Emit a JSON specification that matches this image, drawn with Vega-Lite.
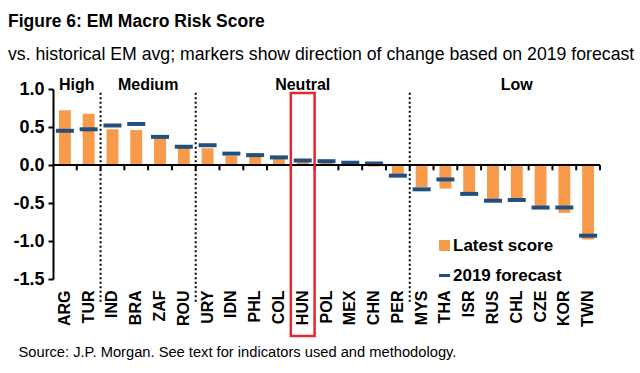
{
  "$schema": "https://vega.github.io/schema/vega-lite/v6.json",
  "width": 547,
  "height": 190,
  "autosize": {"type": "none"},
  "padding": {"left": 53, "top": 89, "right": 40, "bottom": 94},
  "background": "white",
  "config": {
    "font": "Liberation Sans",
    "view": {"stroke": null},
    "title": {"fontSize": 17.5, "fontWeight": "bold", "color": "black", "subtitleFontSize": 17.7, "subtitleColor": "black", "subtitlePadding": 16, "anchor": "start", "frame": "group"}
  },
  "title": {
    "text": "Figure 6: EM Macro Risk Score",
    "subtitle": "vs. historical EM avg; markers show direction of change based on 2019 forecast",
    "dx": -45,
    "offset": 13
  },
  "datasets": {
    "scores": [
      {"country": "ARG", "latest": 0.72, "forecast": 0.45},
      {"country": "TUR", "latest": 0.675, "forecast": 0.47},
      {"country": "IND", "latest": 0.47, "forecast": 0.52},
      {"country": "BRA", "latest": 0.46, "forecast": 0.54},
      {"country": "ZAF", "latest": 0.35, "forecast": 0.37},
      {"country": "ROU", "latest": 0.23, "forecast": 0.24},
      {"country": "URY", "latest": 0.22, "forecast": 0.26},
      {"country": "IDN", "latest": 0.12, "forecast": 0.15},
      {"country": "PHL", "latest": 0.11, "forecast": 0.13},
      {"country": "COL", "latest": 0.08, "forecast": 0.10},
      {"country": "HUN", "latest": 0.04, "forecast": 0.06},
      {"country": "POL", "latest": 0.03, "forecast": 0.05},
      {"country": "MEX", "latest": 0.02, "forecast": 0.03},
      {"country": "CHN", "latest": -0.02, "forecast": 0.02},
      {"country": "PER", "latest": -0.12, "forecast": -0.14},
      {"country": "MYS", "latest": -0.29, "forecast": -0.32},
      {"country": "THA", "latest": -0.31, "forecast": -0.19},
      {"country": "ISR", "latest": -0.37, "forecast": -0.38},
      {"country": "RUS", "latest": -0.46, "forecast": -0.47},
      {"country": "CHL", "latest": -0.45, "forecast": -0.46},
      {"country": "CZE", "latest": -0.56, "forecast": -0.56},
      {"country": "KOR", "latest": -0.63, "forecast": -0.56},
      {"country": "TWN", "latest": -0.98, "forecast": -0.93}
    ],
    "dividers": [
      {"country": "IND", "top": 0.95, "bottom": -1.8},
      {"country": "URY", "top": 0.95, "bottom": -1.8},
      {"country": "MYS", "top": 0.95, "bottom": -1.8}
    ],
    "groupsEdge": [
      {"country": "TUR", "label": "High", "y": 1.0},
      {"country": "ZAF", "label": "Medium", "y": 1.0}
    ],
    "groupsCenter": [
      {"country": "HUN", "label": "Neutral", "y": 1.0},
      {"country": "CHL", "label": "Low", "y": 1.0}
    ],
    "box": [
      {"country": "HUN", "top": 0.947, "bottom": -2.25}
    ]
  },
  "encoding": {
    "x": {
      "field": "country",
      "type": "nominal",
      "scale": {
        "domain": ["ARG","TUR","IND","BRA","ZAF","ROU","URY","IDN","PHL","COL","HUN","POL","MEX","CHN","PER","MYS","THA","ISR","RUS","CHL","CZE","KOR","TWN"],
        "paddingInner": 0,
        "paddingOuter": 0
      },
      "axis": {
        "title": "Source: J.P. Morgan. See text for indicators used and methodology.",
        "titleX": -35,
        "titleY": 77,
        "titleAlign": "left",
        "titleAnchor": null,
        "titleBaseline": "alphabetic",
        "titleFontSize": 14.7,
        "titleFontWeight": "normal",
        "titleColor": "black",
        "labelAngle": 270,
        "labelFontSize": 16,
        "labelFontWeight": "bold",
        "labelColor": "black",
        "labelPadding": 11,
        "ticks": false,
        "domain": false,
        "grid": false
      }
    },
    "y": {
      "type": "quantitative",
      "scale": {"domain": [-1.5, 1.0], "nice": false, "zero": false},
      "axis": {
        "title": null,
        "values": [-1.5, -1.0, -0.5, 0, 0.5, 1.0],
        "labelExpr": "replace(format(datum.value, '.1f'), '\u2212', '-')",
        "labelFontSize": 18,
        "labelFontWeight": "bold",
        "labelColor": "black",
        "labelPadding": 4,
        "labelOverlap": false,
        "labelBound": false,
        "labelFlush": false,
        "tickSize": 5,
        "tickWidth": 2,
        "tickColor": "black",
        "ticks": true,
        "domain": true,
        "domainColor": "black",
        "domainWidth": 2,
        "grid": false
      }
    }
  },
  "layer": [
    {
      "data": {"name": "scores"},
      "mark": {"type": "bar", "width": {"band": 0.5}, "color": "#F79A4A", "opacity": 1},
      "encoding": {
        "y": {"field": "latest"},
        "color": {
          "datum": "Latest score",
          "scale": {"domain": ["Latest score", "2019 forecast"], "range": ["#F79A4A", "#21507F"]},
          "legend": {
            "title": null,
            "orient": "none",
            "legendX": 383,
            "legendY": 148,
            "padding": 0,
            "symbolSize": 121,
            "symbolOpacity": 1,
            "labelFontSize": 17,
            "labelFontWeight": "bold",
            "labelColor": "black",
            "labelOffset": 0,
            "rowPadding": 12,
            "symbolStrokeWidth": 0,
            "encode": {
              "symbols": {
                "update": {
                  "shape": {"signal": "datum.value === '2019 forecast' ? 'M-1,-0.28H1V0.28H-1Z' : 'square'"},
                  "strokeWidth": {"value": 0},
                  "opacity": {"value": 1}
                }
              }
            }
          }
        }
      }
    },
    {
      "data": {"name": "scores"},
      "mark": {"type": "tick", "size": 18, "thickness": 4, "opacity": 1},
      "encoding": {
        "y": {"field": "forecast"},
        "color": {"datum": "2019 forecast"}
      }
    },
    {
      "data": {"values": [{"z": 0}]},
      "mark": {"type": "rule", "color": "black", "strokeWidth": 2},
      "encoding": {
        "y": {"field": "z"},
        "x": null
      }
    },
    {
      "data": {"name": "scores"},
      "mark": {"type": "rule", "color": "black", "strokeWidth": 2},
      "encoding": {
        "x": {"field": "country", "type": "nominal", "bandPosition": 1},
        "y": {"datum": 0},
        "y2": {"datum": -0.07}
      }
    },
    {
      "data": {"name": "dividers"},
      "mark": {"type": "rule", "color": "black", "strokeWidth": 2, "strokeDash": [2, 2.5]},
      "encoding": {
        "x": {"field": "country", "type": "nominal", "bandPosition": 0},
        "y": {"field": "top"},
        "y2": {"field": "bottom"}
      }
    },
    {
      "data": {"name": "box"},
      "mark": {"type": "rect", "fill": "transparent", "stroke": "#E8262B", "strokeWidth": 2.5},
      "encoding": {
        "y": {"field": "top"},
        "y2": {"field": "bottom"}
      }
    },
    {
      "data": {"name": "groupsEdge"},
      "mark": {"type": "text", "fontSize": 16, "fontWeight": "bold", "color": "black", "baseline": "alphabetic", "dy": 1},
      "encoding": {
        "x": {"field": "country", "type": "nominal", "bandPosition": 0},
        "y": {"field": "y"},
        "text": {"field": "label"}
      }
    },
    {
      "data": {"name": "groupsCenter"},
      "mark": {"type": "text", "fontSize": 16, "fontWeight": "bold", "color": "black", "baseline": "alphabetic", "dy": 1},
      "encoding": {
        "y": {"field": "y"},
        "text": {"field": "label"}
      }
    }
  ]
}
